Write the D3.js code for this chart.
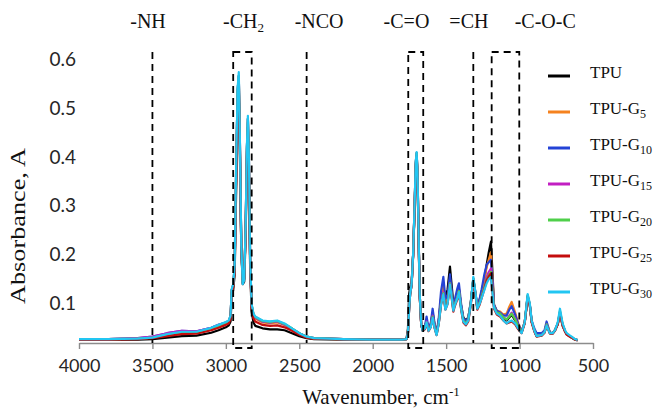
<!DOCTYPE html>
<html>
<head>
<meta charset="utf-8">
<script src="https://cdn.jsdelivr.net/npm/d3@7"></script>
<style>
  body { margin: 0; background: #fff; }
  svg { display: block; }
</style>
</head>
<body>
<svg id="chart" width="657" height="412"></svg>
<script>
// FTIR absorbance spectra of TPU and its glycerol-modified grades

const wavenumbers = [
  4000,3800,3600,3500,3400,3300,3200,3100,3050,3000,
  2980,2968,2960,2950,2940,2930,2920,2912,2905,2895,2885,2875,2865,2857,2850,2843,2835,2825,2812,2800,
  2750,2700,2650,2600,2550,2500,2450,2400,2200,2000,1800,
  1770,1760,1752,1745,1735,1725,1715,1707,1701,1695,1688,1680,1670,1660,
  1645,1633,1620,1605,1592,1578,1565,1550,1535,1519,
  1505,1490,1474,1460,1451,1440,1425,1413,1398,1383,
  1366,1349,1332,1315,1300,1288,1272,1258,1240,1224,
  1210,1195,1184,1174,1155,1133,1110,1088,1070,1054,
  1030,1009,986,965,945,930,918,900,884,850,
  830,816,800,793,775,759,740,725,707,690,
  679,660,640,623,605
];

const absTPU = [
  .027,.027,.027,.028,.031,.034,.035,.041,.046,.052,
  .056,.064,.115,.128,.160,.330,.500,.530,.420,.210,.140,.145,.240,.390,.445,.360,.180,.085,.062,.055,
  .050,.048,.048,.046,.040,.034,.030,.028,.027,.027,.027,
  .028,.050,.120,.134,.145,.200,.290,.380,.400,.360,.240,.115,.058,.046,
  .052,.066,.048,.058,.082,.056,.040,.066,.110,.135,
  .110,.130,.176,.130,.100,.106,.118,.130,.096,.072,
  .066,.072,.104,.150,.118,.094,.108,.125,.150,.180,
  .205,.227,.160,.098,.084,.080,.070,.066,.072,.078,
  .066,.054,.042,.062,.112,.096,.064,.046,.034,.036,
  .042,.058,.046,.040,.040,.046,.058,.080,.056,.044,
  .038,.034,.030,.027,.026
];

const absG5 = [
  .028,.028,.029,.031,.037,.041,.041,.049,.055,.061,
  .064,.074,.126,.137,.172,.365,.530,.560,.440,.215,.142,.150,.255,.410,.470,.390,.195,.096,.076,.070,
  .062,.060,.062,.057,.048,.039,.032,.029,.028,.027,.027,
  .028,.042,.095,.122,.140,.198,.295,.385,.405,.365,.245,.118,.060,.046,
  .052,.066,.048,.056,.080,.054,.040,.066,.112,.140,
  .100,.112,.150,.116,.090,.102,.116,.132,.094,.068,
  .062,.070,.102,.150,.120,.094,.106,.122,.150,.175,
  .190,.205,.150,.098,.086,.084,.078,.080,.094,.104,
  .082,.060,.044,.062,.114,.096,.064,.046,.034,.036,
  .042,.060,.046,.040,.040,.046,.058,.078,.054,.044,
  .038,.034,.030,.027,.026
];

const absG10 = [
  .028,.028,.030,.033,.040,.045,.044,.051,.057,.062,
  .065,.075,.128,.139,.176,.372,.535,.565,.445,.218,.142,.150,.258,.415,.478,.395,.198,.098,.078,.072,
  .064,.062,.064,.058,.049,.040,.033,.030,.028,.027,.027,
  .028,.041,.092,.121,.140,.199,.298,.388,.408,.368,.248,.119,.060,.046,
  .054,.074,.050,.060,.090,.058,.040,.072,.125,.155,
  .110,.118,.160,.120,.092,.110,.130,.142,.100,.070,
  .064,.072,.104,.152,.122,.096,.110,.130,.160,.180,
  .185,.190,.145,.098,.086,.082,.076,.076,.088,.095,
  .078,.058,.044,.062,.116,.098,.066,.050,.040,.040,
  .046,.064,.048,.042,.040,.046,.060,.082,.056,.044,
  .038,.034,.030,.027,.026
];

const absG15 = [
  .028,.028,.030,.033,.040,.045,.044,.051,.057,.062,
  .065,.075,.128,.139,.176,.370,.535,.565,.445,.218,.145,.150,.258,.415,.478,.395,.198,.098,.078,.072,
  .064,.062,.064,.058,.049,.040,.033,.030,.028,.027,.027,
  .028,.040,.090,.120,.140,.199,.298,.388,.408,.368,.248,.119,.060,.046,
  .050,.064,.046,.054,.076,.052,.038,.062,.100,.124,
  .092,.104,.142,.110,.088,.100,.112,.126,.092,.066,
  .060,.068,.100,.150,.120,.092,.102,.116,.136,.155,
  .165,.172,.132,.094,.082,.080,.072,.068,.076,.082,
  .070,.054,.042,.062,.116,.098,.064,.046,.034,.036,
  .042,.058,.046,.040,.040,.046,.060,.084,.058,.044,
  .038,.034,.030,.027,.026
];

const absG20 = [
  .028,.028,.029,.031,.037,.042,.042,.050,.056,.062,
  .065,.075,.128,.139,.176,.372,.536,.566,.446,.218,.144,.150,.258,.416,.478,.396,.198,.099,.079,.073,
  .065,.063,.065,.059,.050,.040,.033,.030,.028,.027,.027,
  .028,.040,.090,.120,.140,.199,.298,.388,.408,.368,.248,.119,.060,.046,
  .050,.062,.046,.054,.074,.052,.038,.062,.100,.122,
  .090,.104,.142,.110,.088,.100,.112,.126,.092,.066,
  .060,.068,.102,.152,.120,.092,.102,.116,.134,.150,
  .158,.165,.128,.094,.082,.080,.072,.068,.074,.080,
  .068,.054,.042,.062,.118,.098,.064,.046,.034,.036,
  .042,.058,.046,.040,.040,.046,.060,.086,.058,.044,
  .038,.034,.030,.027,.026
];

const absG25 = [
  .027,.027,.028,.030,.034,.038,.039,.046,.051,.057,
  .060,.070,.122,.134,.168,.350,.515,.545,.430,.215,.150,.152,.250,.400,.460,.380,.190,.092,.070,.064,
  .057,.055,.056,.052,.045,.037,.031,.029,.028,.027,.027,
  .028,.040,.090,.120,.138,.196,.294,.382,.402,.364,.244,.116,.058,.045,
  .048,.060,.044,.052,.072,.050,.036,.060,.098,.120,
  .088,.100,.140,.106,.084,.096,.108,.122,.088,.062,
  .056,.064,.098,.148,.118,.088,.098,.112,.130,.148,
  .156,.162,.124,.090,.078,.074,.066,.060,.062,.064,
  .058,.048,.040,.060,.114,.096,.062,.044,.033,.035,
  .041,.056,.044,.039,.039,.045,.058,.082,.056,.043,
  .037,.033,.030,.027,.026
];

const absG30 = [
  .028,.028,.029,.031,.038,.043,.043,.051,.057,.063,
  .066,.076,.130,.140,.180,.380,.540,.573,.450,.220,.140,.150,.260,.420,.484,.400,.200,.100,.080,.074,
  .066,.064,.066,.060,.050,.040,.033,.030,.028,.027,.027,
  .028,.040,.090,.120,.140,.200,.300,.390,.410,.370,.250,.120,.060,.045,
  .050,.062,.045,.052,.072,.050,.036,.060,.098,.120,
  .088,.100,.140,.108,.086,.098,.110,.124,.090,.064,
  .058,.066,.100,.155,.122,.090,.100,.112,.128,.142,
  .150,.155,.122,.092,.080,.076,.066,.060,.064,.066,
  .060,.050,.040,.062,.120,.100,.066,.046,.034,.036,
  .042,.056,.044,.040,.040,.046,.062,.090,.060,.046,
  .040,.036,.032,.028,.026
];

const seriesValues = [absTPU, absG5, absG10, absG15, absG20, absG25, absG30];
const legendMain = ["TPU", "TPU-G", "TPU-G", "TPU-G", "TPU-G", "TPU-G", "TPU-G"];
const legendSub = ["", "5", "10", "15", "20", "25", "30"];
const seriesColors = ["#000000", "#f5821f", "#2443d6", "#c21fc2", "#4fcf4a", "#c40d0d", "#22c6f2"];

const xTickValues = [4000, 3500, 3000, 2500, 2000, 1500, 1000, 500];
const yTickValues = [0.1, 0.2, 0.3, 0.4, 0.5, 0.6];

// Marker bands: single dashed lines and dashed boxes (wavenumber limits)
const bandLineWn = [3500, 2450, 1315];
const bandBoxWn = [[2950, 2824], [1758, 1656], [1190, 1002]];
const bandLabelMain = ["-NH", "-CH", "-NCO", "-C=O", "=CH", "-C-O-C"];
const bandLabelSub = ["", "2", "", "", "", ""];
const bandLabelWn = [3530, 2880, 2365, 1770, 1345, 825];

const svg = d3.select("#chart");

const x = d3.scaleLinear().domain([4000, 500]).range([79, 593]);
const y = d3.scaleLinear().domain([0.02, 0.6]).range([343, 59]);

const serif = "'Liberation Serif', 'Times New Roman', serif";
const sans = "Lato, 'Open Sans', sans-serif";

// x axis
const xAxis = d3.axisBottom(x).tickValues(xTickValues).tickSize(6).tickSizeOuter(0).tickPadding(10)
  .tickFormat(d3.format("d"));
const gx = svg.append("g").attr("transform", "translate(0,343)").call(xAxis);
gx.select(".domain").attr("stroke", "#8c8c8c").attr("stroke-width", 1.6);
gx.selectAll(".tick line").attr("stroke", "#8c8c8c").attr("stroke-width", 1.4);
gx.selectAll(".tick text").attr("font-family", sans).attr("font-size", 18).attr("fill", "#262626");

// y axis: labels only
const yAxis = d3.axisLeft(y).tickValues(yTickValues).tickSize(0).tickPadding(0).tickFormat(d3.format(".1f"));
const gy = svg.append("g").attr("transform", "translate(76,0)").call(yAxis);
gy.select(".domain").remove();
gy.selectAll(".tick text").attr("font-family", sans).attr("font-size", 19).attr("fill", "#262626");

// spectra
const line = d3.line().x((d, i) => x(wavenumbers[i])).y(d => y(d)).curve(d3.curveLinear);
svg.append("g").selectAll("path").data(seriesValues).join("path")
  .attr("d", d => line(d))
  .attr("fill", "none")
  .attr("stroke", (d, i) => seriesColors[i])
  .attr("stroke-width", 2.2)
  .attr("stroke-linejoin", "round");

// dashed band markers
const bandTop = 52, lineBottom = 343, boxBottom = 348;
const dash = "7,5";
svg.append("g").selectAll("line").data(bandLineWn).join("line")
  .attr("x1", d => x(d)).attr("x2", d => x(d))
  .attr("y1", bandTop).attr("y2", lineBottom)
  .attr("stroke", "#000").attr("stroke-width", 1.8).attr("stroke-dasharray", dash);
svg.append("g").selectAll("rect").data(bandBoxWn).join("rect")
  .attr("x", d => x(d[0])).attr("width", d => x(d[1]) - x(d[0]))
  .attr("y", bandTop).attr("height", boxBottom - bandTop)
  .attr("fill", "none")
  .attr("stroke", "#000").attr("stroke-width", 1.8).attr("stroke-dasharray", dash);

// band labels
svg.append("g").selectAll("text").data(bandLabelMain).join("text")
  .attr("x", (d, i) => x(bandLabelWn[i])).attr("y", 28)
  .attr("text-anchor", "middle")
  .attr("font-family", serif).attr("font-size", 20).attr("fill", "#111")
  .each(function (d, i) {
    const t = d3.select(this);
    t.append("tspan").text(d);
    if (bandLabelSub[i]) t.append("tspan").attr("dy", 4).attr("font-size", 13).text(bandLabelSub[i]);
  });

// legend
const legend = svg.append("g");
seriesColors.forEach((c, i) => {
  const ly = 76 + i * 36;
  legend.append("line").attr("x1", 548).attr("x2", 570).attr("y1", ly).attr("y2", ly)
    .attr("stroke", c).attr("stroke-width", 3);
  const t = legend.append("text").attr("x", 590).attr("y", ly + 2)
    .attr("font-family", serif).attr("font-size", 17).attr("fill", "#111");
  t.append("tspan").text(legendMain[i]);
  if (legendSub[i]) t.append("tspan").attr("dy", 4).attr("font-size", 12).text(legendSub[i]);
});

// axis titles
const xt = svg.append("text").attr("x", 381).attr("y", 404).attr("text-anchor", "middle")
  .attr("font-family", serif).attr("font-size", 21).attr("fill", "#111");
xt.append("tspan").text("Wavenumber, cm");
xt.append("tspan").attr("dy", -8).attr("font-size", 13).text("-1");

svg.append("text").attr("transform", "translate(25,226) rotate(-90)").attr("text-anchor", "middle")
  .attr("font-family", serif).attr("font-size", 20).attr("fill", "#111")
  .attr("textLength", 156).attr("lengthAdjust", "spacingAndGlyphs")
  .text("Absorbance, A");
</script>
</body>
</html>
